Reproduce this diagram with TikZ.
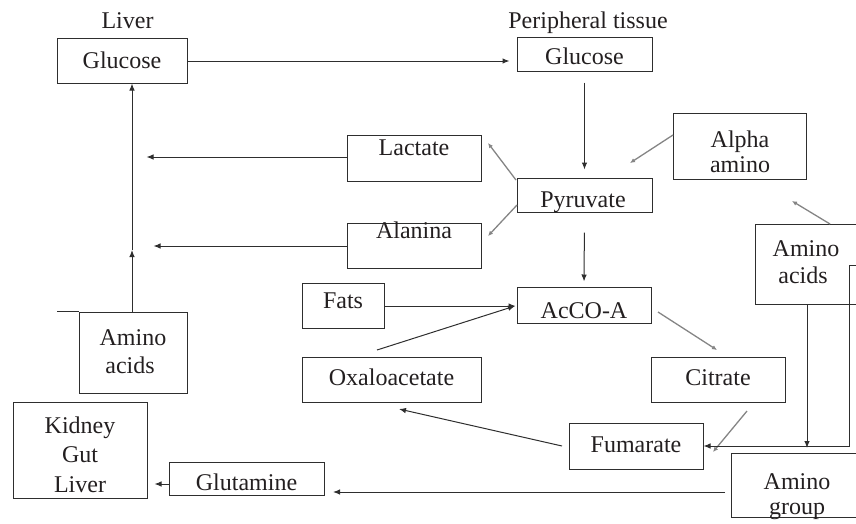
\documentclass[tikz,border=0pt]{standalone}
\usepackage{fontspec}
\setmainfont{Liberation Serif}
\usetikzlibrary{arrows.meta,calc}
\definecolor{ink}{HTML}{231F20}
\definecolor{ln}{HTML}{2E2E2E}
\definecolor{gr}{HTML}{858585}
\begin{document}
\begin{tikzpicture}[x=1pt,y=-1pt,
  bx/.style={draw=ln,line width=1pt,rectangle,inner sep=0pt},
  txt/.style={text=ink,inner sep=0pt,font=\fontsize{24}{27}\selectfont},
  arr/.style={draw=ln,line width=1pt,-{Latex[length=7pt,width=5.5pt]}},
  garr/.style={draw=gr,line width=1.3pt,-{Latex[length=5pt,width=4.5pt]}},
  pl/.style={draw=ln,line width=1pt}]
\useasboundingbox (0,0) rectangle (856,523);
\clip (0,0) rectangle (856,523);
% boxes
\node[bx,minimum width=130pt,minimum height=45pt] (gL) at (122,60.5) {};
\node[bx,minimum width=135pt,minimum height=34pt] (gP) at (584.5,54) {};
\node[bx,minimum width=135pt,minimum height=34pt] (pyr) at (584.5,195) {};
\node[bx,minimum width=134pt,minimum height=36pt] (acoa) at (584,305) {};
\node[bx,minimum width=133pt,minimum height=66pt] (alpha) at (739.5,146) {};
\node[bx,minimum width=134pt,minimum height=46pt] (lact) at (414,158) {};
\node[bx,minimum width=134pt,minimum height=45pt] (alan) at (414,245.5) {};
\node[bx,minimum width=115pt,minimum height=80pt] (amR) at (812.5,264) {};
\node[bx,minimum width=139pt,minimum height=64pt] (amG) at (800.5,485) {};
\node[bx,minimum width=108pt,minimum height=81pt] (amL) at (133,352.5) {};
\node[bx,minimum width=134pt,minimum height=96pt] (kgl) at (80,450) {};
\node[bx,minimum width=155pt,minimum height=33pt] (glut) at (246.5,478.5) {};
\node[bx,minimum width=82pt,minimum height=45pt] (fats) at (343,305.5) {};
\node[bx,minimum width=179pt,minimum height=45pt] (oxa) at (391.5,379.5) {};
\node[bx,minimum width=134pt,minimum height=45pt] (cit) at (718,379.5) {};
\node[bx,minimum width=134pt,minimum height=46pt] (fum) at (636,446) {};
% texts
\node[txt,anchor=base] (tLiver) at (127.5,28) {Liver};
\node[txt,anchor=base] (tPeri) at (588,28) {Peripheral tissue};
\node[txt,anchor=base] (tgL) at (122,68) {Glucose};
\node[txt,anchor=base] (tgP) at (584.5,64) {Glucose};
\node[txt,anchor=base] (tpyr) at (583,207) {Pyruvate};
\node[txt,anchor=base] (tacoa) at (584,318) {AcCO-A};
\node[txt,anchor=base] (talpha1) at (740,147) {Alpha};
\node[txt,anchor=base] (talpha2) at (740,172) {amino};
\node[txt,anchor=base] (tlact) at (414,155) {Lactate};
\node[txt,anchor=base] (talan) at (414,238) {Alanina};
\node[txt,anchor=base] (tamR1) at (806,256) {Amino};
\node[txt,anchor=base] (tamR2) at (803,283) {acids};
\node[txt,anchor=base] (tamG1) at (797,489) {Amino};
\node[txt,anchor=base] (tamG2) at (797,514) {group};
\node[txt,anchor=base] (tamL1) at (133,345) {Amino};
\node[txt,anchor=base] (tamL2) at (130,373) {acids};
\node[txt,anchor=base] (tk1) at (80,433) {Kidney};
\node[txt,anchor=base] (tk2) at (80,462) {Gut};
\node[txt,anchor=base] (tk3) at (80,492) {Liver};
\node[txt,anchor=base] (tglut) at (246.5,490) {Glutamine};
\node[txt,anchor=base] (tfats) at (343,308) {Fats};
\node[txt,anchor=base] (toxa) at (391.5,385) {Oxaloacetate};
\node[txt,anchor=base] (tcit) at (718,385) {Citrate};
\node[txt,anchor=base] (tfum) at (636,452) {Fumarate};
% coordinates
\coordinate (mid) at (132,250);
\coordinate (aS) at (673,135);
\coordinate (aE) at (630,163);
\coordinate (p1S) at (516,180);
\coordinate (p1E) at (488,143);
\coordinate (p2S) at (517,205);
\coordinate (p2E) at (488,236);
\coordinate (oS) at (377,350);
\coordinate (oE) at (515,306);
\coordinate (cS) at (658,312);
\coordinate (cE) at (717,350);
\coordinate (fS) at (747,411);
\coordinate (fE) at (713,452);
\coordinate (fuS) at (562,446);
\coordinate (fuE) at (399,409);
\coordinate (rS) at (870,265);
\coordinate (rC) at (849,265);
\coordinate (rD) at (849,446);
\coordinate (rxS) at (830,224);
\coordinate (rxE) at (792,201);
\coordinate (gS) at (725,492);
\coordinate (gE) at (333,492);
% connectors
\draw[arr,shorten >=7pt] (gL.east |- 0,61) -- (gP.west |- 0,61);
\draw[arr,shorten <=11pt,shorten >=8pt] (gP.south) -- (pyr.north);
\draw[arr,shorten <=20pt,shorten >=5pt] (pyr.south) -- (acoa.north);
\draw[garr] (aS) -- (aE);
\draw[garr] (p1S) -- (p1E);
\draw[garr] (p2S) -- (p2E);
\draw[arr] (lact.west |- 0,157) -- ++(-200,0);
\draw[arr] (alan.west |- 0,246) -- ++(-193,0);
\draw[pl] (amL.north west) -- ++(-22,0);
\draw[arr] (mid |- amL.north) -- (mid);
\draw[arr] (mid) -- (mid |- gL.south);
\draw[arr] (glut.west |- 0,484) -- ++(-14,0);
\draw[arr] (gS) -- (gE);
\draw[arr,shorten >=1pt] (fats.east |- 0,306) -- (acoa.west |- 0,306);
\draw[arr] (oS) -- (oE);
\draw[garr] (cS) -- (cE);
\draw[garr] (fS) -- (fE);
\draw[arr] (fuS) -- (fuE);
\draw[arr] (rS) -- (rC) -- (rD) -- (fum.east |- rD);
\draw[arr] (amR.south -| 807,0) -- (807,448);
\draw[garr] (rxS) -- (rxE);
\end{tikzpicture}
\end{document}
